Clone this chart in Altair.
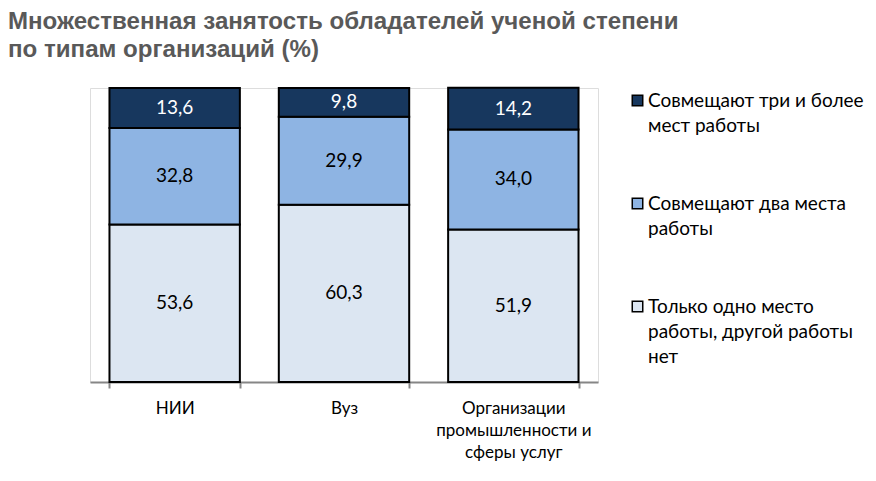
import json
import altair as alt
import pandas as pd

# ---- data ----
categories = ["НИИ", "Вуз", "Организации промышленности и сферы услуг"]
category_lines = [["НИИ"], ["Вуз"], ["Организации", "промышленности и", "сферы услуг"]]
series = [
    "Совмещают три и более мест работы",
    "Совмещают два места работы",
    "Только одно место работы, другой работы нет",
]
series_lines = [
    ["Совмещают три и более", "мест работы"],
    ["Совмещают два места", "работы"],
    ["Только одно место", "работы, другой работы", "нет"],
]
three_plus = [13.6, 9.8, 14.2]
two_places = [32.8, 29.9, 34.0]
one_place = [53.6, 60.3, 51.9]
colors = ["#17375E", "#8EB4E3", "#DCE6F2"]

rows = []
for i, cat in enumerate(categories):
    for order, (s, vals) in enumerate(
        [(series[2], one_place), (series[1], two_places), (series[0], three_plus)]
    ):
        v = vals[i]
        rows.append({
            "category": cat,
            "series": s,
            "value": v,
            "order": order,
            "label": f"{v:.1f}".replace(".", ","),
        })
df = pd.DataFrame(rows)


def multiline_expr(keys, lines):
    expr = "datum.label"
    for k, ls in zip(keys, lines):
        expr = f"datum.label == {json.dumps(k, ensure_ascii=False)} ? {json.dumps(ls, ensure_ascii=False)} : ({expr})"
    return expr


LABEL_FONT = "Lato"

x_enc = alt.X(
    "category:N",
    sort=categories,
    scale=alt.Scale(paddingInner=0.23, paddingOuter=0.115),
    axis=alt.Axis(
        title=None,
        labelAngle=0,
        labelExpr=multiline_expr(categories, category_lines),
        labelFont=LABEL_FONT,
        labelFontSize=17,
        labelColor="black",
        labelLineHeight=22,
        labelPadding=12,
        labelBaseline="top",
        domainColor="#868686",
        domainWidth=2,
        tickColor="#868686",
        tickWidth=2,
        tickSize=6,
        tickBand="extent",
        labelLimit=300,
    ),
)

base = alt.Chart(df).encode(x=x_enc)

bars = base.mark_bar(stroke="black", strokeWidth=2).encode(
    y=alt.Y("value:Q", stack="zero", scale=alt.Scale(domain=[0, 100]), axis=None),
    color=alt.Color(
        "series:N",
        scale=alt.Scale(domain=series, range=colors),
        legend=alt.Legend(
            title=None,
            orient="none",
            legendX=538,
            legendY=3,
            labelExpr=multiline_expr(series, series_lines),
            labelFont=LABEL_FONT,
            labelFontSize=19,
            labelColor="black",
            labelLimit=400,
            labelBaseline="middle",
            symbolType="square",
            symbolSize=110,
            symbolStrokeColor="black",
            symbolStrokeWidth=1.5,
            symbolOpacity=1,
            rowPadding=58,
            labelOffset=1,
        ),
    ),
    order=alt.Order("order:Q"),
)

text = (
    base.transform_stack(
        stack="value", groupby=["category"], as_=["y0", "y1"],
        sort=[alt.SortField("order", order="ascending")],
    )
    .transform_calculate(mid="(datum.y0 + datum.y1) / 2")
    .mark_text(font=LABEL_FONT, fontSize=19)
    .encode(
        y=alt.Y("mid:Q", scale=alt.Scale(domain=[0, 100]), axis=None),
        text="label:N",
        color=alt.condition("datum.order == 2", alt.value("white"), alt.value("black")),
    )
)

chart = (
    alt.layer(bars, text)
    .properties(
        width=508,
        height=294,
        padding={"left": 82, "top": 80, "right": 270, "bottom": 91},
        autosize=alt.AutoSizeParams(type="none"),
        title=alt.TitleParams(
            text=[
                "Множественная занятость обладателей ученой степени",
                "по типам организаций (%)",
            ],
            anchor="start",
            frame="group",
            dx=-82,
            offset=25,
            font="Liberation Sans",
            fontSize=24.1,
            fontWeight="bold",
            color="#595959",
            lineHeight=28,
        ),
    )
    .configure_view(stroke=None)
    .configure(style={"guide-label": {"lineHeight": 25}})
)

chart.save("out.html", embed_options={"renderer": "svg", "actions": False})
